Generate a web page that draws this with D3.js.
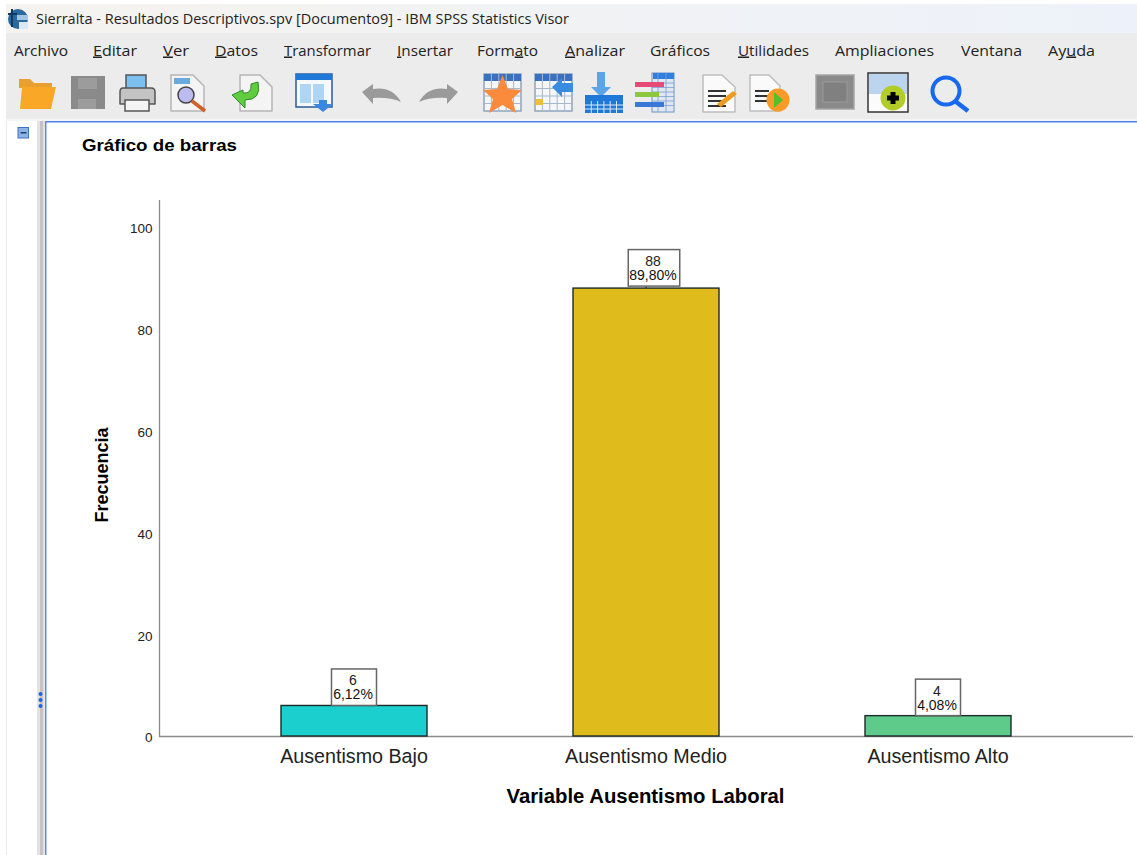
<!DOCTYPE html>
<html><head><meta charset="utf-8">
<script src="https://cdn.jsdelivr.net/npm/d3@7"></script>
<style>html,body{margin:0;padding:0;background:#fff;overflow:hidden}svg{display:block}</style>
</head><body><svg id="c" width="1137" height="855"></svg>
<script>
const categories = ["Ausentismo Bajo","Ausentismo Medio","Ausentismo Alto"];
const counts = [6,88,4];
const percents = ["6,12%","89,80%","4,08%"];
const barColors = ["#1ccfcf","#e0bb1c","#5ecb8b"];
const yTicks = [0,20,40,60,80,100];
const menuItems = [["Archivo",14,54,null],["Editar",93,44,0],["Ver",163,26,0],["Datos",215,43,0],["Transformar",284,87,0],["Insertar",397,56,0],["Formato",477,61,4],["Analizar",565,60,0],["Gráficos",650,60,null],["Utilidades",738,71,0],["Ampliaciones",835,99,null],["Ventana",961,61,null],["Ayuda",1048,47,2]];

const svg = d3.select("#c");
const uiFont = "'Open Sans','Noto Sans',sans-serif", chartFont = "'Liberation Sans',Arial,sans-serif";

// window chrome
const defs = svg.append("defs");
const g = defs.append("linearGradient").attr("id","tb");
g.append("stop").attr("offset",0).attr("stop-color","#f5f3ef");
g.append("stop").attr("offset",1).attr("stop-color","#edf2fa");
const rect=(p,x,y,w,h,f,s,sw)=>p.append("rect").attr("x",x).attr("y",y).attr("width",w).attr("height",h).attr("fill",f).attr("stroke",s||"none").attr("stroke-width",sw||0);
const path=(p,d,f,s,sw)=>p.append("path").attr("d",d).attr("fill",f||"none").attr("stroke",s||"none").attr("stroke-width",sw||0).attr("stroke-linejoin","round");
rect(svg,6,4,1131,29,"url(#tb)");
rect(svg,6,33,1131,86,"#ececec");
rect(svg,6,119,1131,2,"#f4f4f4");
rect(svg,7,121,30,734,"#ffffff");
rect(svg,6,121,1,734,"#ececec");
rect(svg,37,121,8,734,"#e2e2e2");
rect(svg,40,121,3,734,"#c4c4c4");
rect(svg,45,121,1092,1.5,"#4a80e8");
rect(svg,45,121,1.5,734,"#5c8cf0");
[694,700,706].forEach(y=>svg.append("circle").attr("cx",40.5).attr("cy",y).attr("r",2).attr("fill","#1f62ee"));
rect(svg,18,127.5,10.5,10.5,"#8cb2e6","#3f72c0",1);
rect(svg,20.5,132,6,1.5,"#1d3f7a");

// title bar + menu
const ic=svg.append("g");
ic.append("circle").attr("cx",18).attr("cy",19).attr("r",10).attr("fill","#2a6a9e");
rect(ic,17,15,11,5,"#9fc6e2"); rect(ic,19,22,9,7,"#d8e8f4");
path(ic,"M12 9V27M8 14H17","none","#12395f",2);
svg.append("text").attr("x",36).attr("y",24).attr("font-family",uiFont).attr("font-size",14).attr("fill","#222").attr("textLength",533).attr("lengthAdjust","spacingAndGlyphs").text("Sierralta - Resultados Descriptivos.spv [Documento9] - IBM SPSS Statistics Visor");
menuItems.forEach(([t,x,w,u])=>{
  const el=svg.append("text").attr("x",x).attr("y",55.5).attr("font-family",uiFont).attr("font-size",15).attr("fill","#222").attr("textLength",w).attr("lengthAdjust","spacingAndGlyphs");
  if(u===null) el.text(t);
  else { el.append("tspan").text(t.slice(0,u)); el.append("tspan").attr("text-decoration","underline").text(t[u]); el.append("tspan").text(t.slice(u+1)); }
});

// toolbar icons
const tb=svg.append("g");
path(tb,"M19 79H30L34 83H52V88H19Z","#eaa030");
path(tb,"M22 87H56L51 109H20Z","#f8a826");
rect(tb,71,76,34,33,"#8a8a8a"); rect(tb,78,78,19,11,"#9c9c9c"); rect(tb,78,99,18,10,"#9c9c9c");
rect(tb,126,75,20,14,"#7cc0f0","#555",1.5);
path(tb,"M123 88H151Q155 88 155 92V104H120V92Q120 88 123 88Z","#c4c4c4","#555",1.5);
rect(tb,125,100,24,11,"#f4f4f4","#555",1.5);
path(tb,"M171 75H193L204 86V111H171Z","#f4f4f4","#b5b5b5",1.5);
rect(tb,174,78,16,6,"#6aa8e0");
tb.append("circle").attr("cx",186).attr("cy",95).attr("r",8).attr("fill","#bcbcf0").attr("stroke","#444").attr("stroke-width",1.5);
path(tb,"M192 101L205 111","none","#d0602a",3.5);
path(tb,"M240 75H260L272 87V111H240Z","#f4f4f4","#b5b5b5",1.5);
path(tb,"M232 95L243 90V93Q252 94 251 84L258 82Q262 100 245 100L245 108Z","#62cc40","#2c8a2c",1);
rect(tb,296,74,36,33,"#f6f9fc","#2a5a9c",1.5); rect(tb,296,74,36,6,"#1f78d8");
rect(tb,300,84,11,19,"#aed6f4"); rect(tb,313,84,11,19,"#aed6f4");
path(tb,"M319 100H327V104H333L323 112L313 104H319Z","#3888e0");
path(tb,"M362 92L373 84V89Q392 86 401 102Q390 97 373 98V104Z","#9a9a9a");
path(tb,"M458 92L447 84V89Q428 86 419 102Q430 97 447 98V104Z","#9a9a9a");
const grid=(x,y,w,h)=>{rect(tb,x,y,w,h,"#f4f6f8","#8fa3bd",1.5);rect(tb,x,y,w,7,"#3a70c0");
  const xs=d3.range(1,5).map(i=>x+i*w/5), ys=d3.range(1,4).map(i=>y+7+i*(h-7)/4);
  xs.forEach(a=>path(tb,`M${a} ${y}V${y+h}`,"none","#a8b8cc",1)); ys.forEach(b=>path(tb,`M${x} ${b}H${x+w}`,"none","#a8b8cc",1));};
grid(484,74,37,37);
path(tb,"M502.5 75L508 89L522 90L512 99L516 113L502.5 105L489 113L493 99L483 90L497 89Z","#fa8a3c");
grid(535,74,37,37);
path(tb,"M552 87L562 78V83H573V92H562V97Z","#3a8ce0"); rect(tb,536,99,7,6,"#f0c030");
path(tb,"M597 72H605V87H611L601 97L591 87H597Z","#5aa4ea");
rect(tb,585,95,38,18,"#1f78d8");
d3.range(1,6).forEach(i=>path(tb,`M${585+i*6.3} 101V113`,"none","#d8e8f8",1));
[105,109].forEach(y=>path(tb,`M585 ${y}H623`,"none","#d8e8f8",1));
rect(tb,652,73,22,39,"#dfe7f2","#6f94c8",1); rect(tb,653,73,21,6,"#2f7ee0");
[[83],[87.5],[92],[96.5],[101],[105.5]].forEach(([y])=>path(tb,`M652 ${y}H674`,"none","#7aa0d0",0.8));
path(tb,"M658 73V112M666 73V112","none","#7aa0d0",0.8);
rect(tb,635,82,29,5,"#e84a78"); rect(tb,635,92,24,5,"#8cc83c"); rect(tb,635,102,29,5,"#3a78d8");
path(tb,"M703 75H722L735 87V112H703Z","#fafafa","#bdbdbd",1.5);
[91,96,101,106].forEach(y=>path(tb,`M708 ${y}H726`,"none","#333",2));
path(tb,"M717 104L733 91L737 94L721 107Z","#f09a1c");
path(tb,"M750 75H769L780 86V111H750Z","#fafafa","#bdbdbd",1.5);
[91,96,101].forEach(y=>path(tb,`M755 ${y}H769`,"none","#333",2));
tb.append("circle").attr("cx",778).attr("cy",100).attr("r",11.5).attr("fill","#fa9a28");
path(tb,"M774 92L783 100L774 108Z","#56c02c");
rect(tb,816,75,38,34,"#8a8a8a","#a5a5a5",1.5); rect(tb,823,82,24,20,"#808080","#9a9a9a",1);
rect(tb,868,73,40,39,"#fbfbfb","#333",1.5); rect(tb,869,74,38,20,"#bdd4ee");
tb.append("circle").attr("cx",893).attr("cy",98).attr("r",12.5).attr("fill","#b4cc28");
path(tb,"M893 92V104M887 98H899","none","#000",5);
tb.append("circle").attr("cx",946).attr("cy",91).attr("r",13.5).attr("fill","none").attr("stroke","#1668f0").attr("stroke-width",4);
path(tb,"M955 101L968 111","none","#1668f0",4.5);

// chart
const y0 = 736;
const y = d3.scaleLinear().domain([0,100]).range([y0,227]);
const x = d3.scaleBand().domain(categories).range([208,1084]).paddingInner(0.5).paddingOuter(0.25);
const chart = svg.append("g").attr("font-family",chartFont);

chart.append("text").attr("x",82).attr("y",151).attr("font-size",17).attr("font-weight",700).attr("fill","#000").attr("textLength",155).attr("lengthAdjust","spacingAndGlyphs").text("Gráfico de barras");

const yAxis = d3.axisLeft(y).tickValues(yTicks).tickSize(0).tickPadding(7);
const yG = chart.append("g").attr("transform","translate(159.5,0)").call(yAxis);
yG.select(".domain").remove();
yG.selectAll("text").attr("font-family",chartFont).attr("font-size",13.5).attr("fill","#222").attr("dy","0.58em").attr("y",-2);
const xAxis = d3.axisBottom(x).tickSize(0).tickPadding(15);
const xG = chart.append("g").attr("transform",`translate(0,${y0})`).call(xAxis);
xG.select(".domain").remove();
xG.selectAll("text").attr("font-family",chartFont).attr("font-size",19.7).attr("fill","#222").attr("dy","0.6em");
chart.append("path").attr("d",`M159.5 200V${y0}.5H1133`).attr("fill","none").attr("stroke","#8c8c8c").attr("stroke-width",1.3);

const data = categories.map((c,i)=>({c,v:counts[i],p:percents[i],col:barColors[i]}));
chart.selectAll(".bar").data(data).join("rect").attr("class","bar")
  .attr("x",d=>x(d.c)).attr("width",x.bandwidth()).attr("y",d=>y(d.v)).attr("height",d=>y0-y(d.v))
  .attr("fill",d=>d.col).attr("stroke","#1e2a2a").attr("stroke-width",1.4);

// value labels: the tall bar's box sits slightly offset, joined to the bar by a small tick
const isTall = d => d.v > 50;
const lab = chart.selectAll(".lab").data(data).join("g").attr("class","lab")
  .attr("transform",d=>`translate(${x(d.c)+x.bandwidth()/2},${y(d.v)})`);
lab.filter(isTall).append("path").attr("d","M0 0V-3").attr("stroke","#333").attr("stroke-width",1.3);
const inner = lab.append("g").attr("transform",d=>isTall(d)?"translate(8,-2)":"translate(0,0)");
const boxes = inner.append("rect").attr("y",-36.5).attr("height",36.5).attr("fill","#fff").attr("stroke","#666").attr("stroke-width",1.5);
inner.append("text").attr("text-anchor","middle").attr("x",-1).attr("y",-20).attr("font-size",14).attr("fill","#222").text(d=>d.v);
const pct = inner.append("text").attr("text-anchor","middle").attr("x",-1).attr("y",-6).attr("font-size",14).attr("fill","#111").text(d=>d.p);
boxes.each(function(d,i){ const w = Math.max(45, pct.nodes()[i].getComputedTextLength()+4); d3.select(this).attr("x",-w/2).attr("width",w); });

chart.append("text").attr("x",645.5).attr("y",803).attr("text-anchor","middle").attr("font-size",20).attr("font-weight",700).attr("fill","#000").attr("textLength",278).attr("lengthAdjust","spacingAndGlyphs").text("Variable Ausentismo Laboral");
chart.append("text").attr("transform","translate(108,475) rotate(-90)").attr("text-anchor","middle").attr("font-size",18).attr("font-weight",700).attr("fill","#000").text("Frecuencia");
</script></body></html>
